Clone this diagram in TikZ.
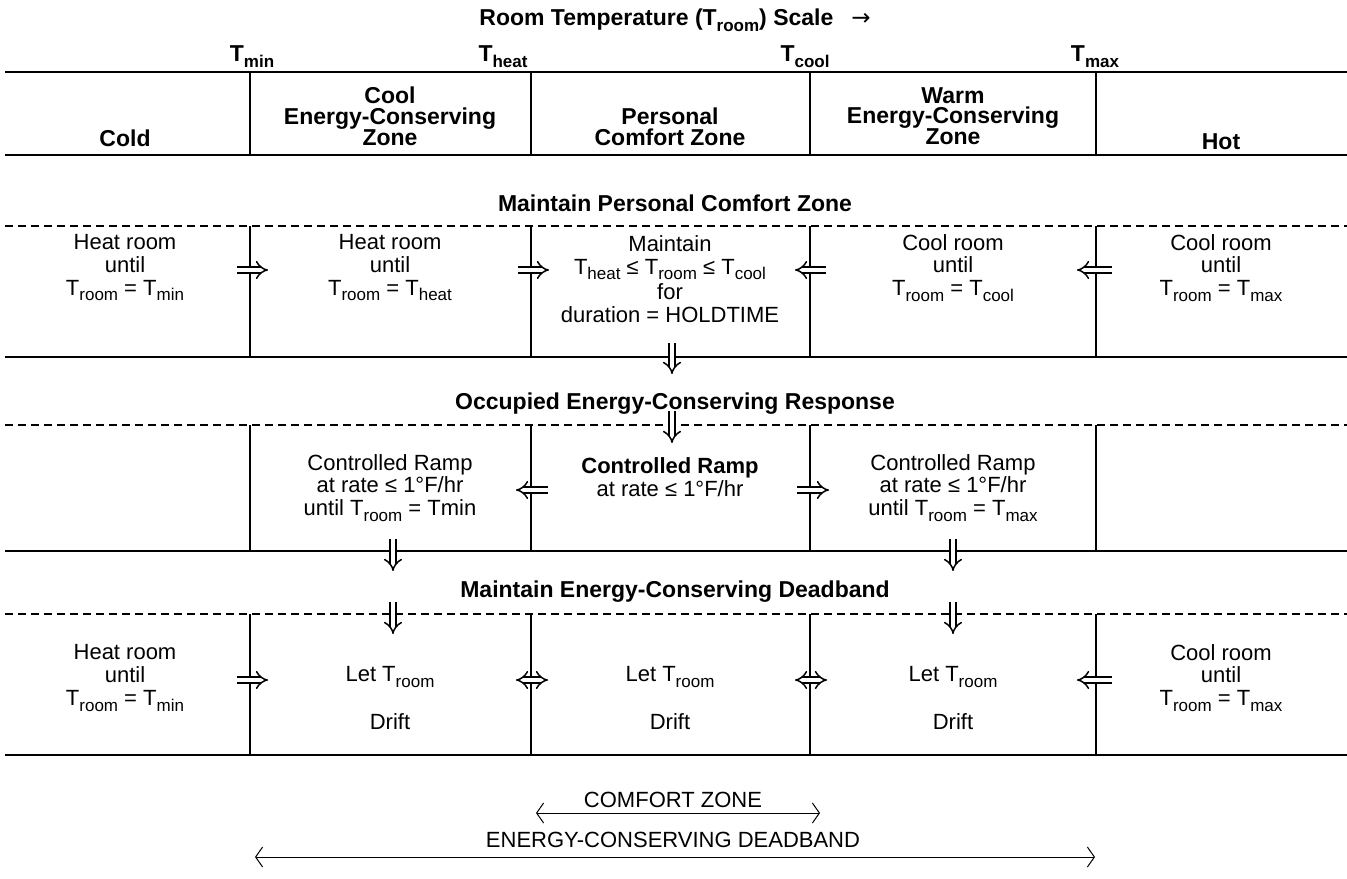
\documentclass[tikz,border=0pt]{standalone}
\usepackage{fontspec}
\setmainfont{Liberation Sans}
\newfontfamily\symfont{DejaVu Sans}
\usetikzlibrary{arrows.meta}
% lowered subscript set in text type
\newcommand{\tsub}[1]{\raisebox{-0.5ex}{\fontsize{8.5}{9}\selectfont #1}}
\newcommand{\Tx}[1]{T\tsub{#1}}
\begin{document}
\begin{tikzpicture}[x=0.5pt,y=-0.5pt,
  txt/.style={font=\fontsize{11}{11.3}\selectfont, align=center, inner sep=0pt},
  hd/.style={font=\bfseries\fontsize{11.5}{10.4}\selectfont, align=center, inner sep=0pt},
  rule/.style={line width=0.7pt},
  dashrule/.style={line width=0.6pt, dash pattern=on 4pt off 2.5pt},
  divider/.style={line width=0.6pt},
  flow/.style={double, double distance=2.4pt, line width=0.75pt, -{Implies}},
  flowboth/.style={double, double distance=2.4pt, line width=0.75pt, {Implies}-{Implies}},
  span/.style={line width=0.5pt, {Straight Barb[length=3.5pt,width=10pt]}-{Straight Barb[length=3.5pt,width=10pt]}},
]
\useasboundingbox (0,0) rectangle (1347,878);

% ---------- scale header ----------
\node[hd] (title) at (675,20) {Room Temperature (\Tx{room}) Scale \enspace{\symfont\mdseries →}};
\node[hd] (tmin)  at (252,57) {\Tx{min}};
\node[hd] (theat) at (503,57) {\Tx{heat}};
\node[hd] (tcool) at (805,57) {\Tx{cool}};
\node[hd] (tmax)  at (1095,57) {\Tx{max}};

\draw[rule] (5,72) -- (1347,72);
\draw[rule] (5,155) -- (1347,155);
\foreach \x in {250,531,810,1096} \draw[divider] (\x,72) -- (\x,155);

\node[hd] (cold)  at (125,138) {Cold};
\node[hd] (coolz) at (390,116) {Cool\\Energy-Conserving\\Zone};
\node[hd] (pers)  at (670,127) {Personal\\Comfort Zone};
\node[hd] (warmz) at (953,116) {Warm\\Energy-Conserving\\Zone};
\node[hd] (hot)   at (1221,142) {Hot};

% ---------- maintain personal comfort zone ----------
\node[hd] (s1) at (675,203) {Maintain Personal Comfort Zone};
\draw[dashrule] (5,226) -- (1347,226);
\draw[rule] (5,357) -- (1347,357);
\foreach \x in {250,531,810,1096} \draw[divider] (\x,226) -- (\x,357);

\node[txt] (a1) at (125,268) {Heat room\\until\\\Tx{room} = \Tx{min}};
\node[txt] (a2) at (390,268) {Heat room\\until\\\Tx{room} = \Tx{heat}};
\node[txt] (a3) at (670,279) {Maintain\\\Tx{heat} ≤ \Tx{room} ≤ \Tx{cool}\\[1.5pt]for\\duration = HOLDTIME};
\node[txt] (a4) at (953,268) {Cool room\\until\\\Tx{room} = \Tx{cool}};
\node[txt] (a5) at (1221,268) {Cool room\\until\\\Tx{room} = \Tx{max}};

\coordinate (p1s) at (237,270);  \coordinate (p1e) at (268,270);
\coordinate (p2s) at (518,270);  \coordinate (p2e) at (549,270);
\coordinate (p3s) at (826,270);  \coordinate (p3e) at (795,270);
\coordinate (p4s) at (1112,270); \coordinate (p4e) at (1077,270);
\draw[flow] (p1s) -- (p1e);
\draw[flow] (p2s) -- (p2e);
\draw[flow] (p3s) -- (p3e);
\draw[flow] (p4s) -- (p4e);
\coordinate (d1s) at (672,343); \coordinate (d1e) at (672,374);
\draw[flow] (d1s) -- (d1e);

% ---------- occupied energy-conserving response ----------
\node[hd] (s2) at (675,404) {Occupied Energy-Conserving Response};
\draw[dashrule] (5,425) -- (1347,425);
\draw[rule] (5,551) -- (1347,551);
\foreach \x in {250,531,810,1096} \draw[divider] (\x,425) -- (\x,551);

\coordinate (d2s) at (672,411); \coordinate (d2e) at (672,443);
\draw[flow] (d2s) -- (d2e);

\node[txt] (b2) at (390,488) {Controlled Ramp\\at rate ≤ 1°F/hr\\until \Tx{room} = Tmin};
\node[txt] (b3) at (670,477) {\textbf{Controlled Ramp}\\at rate ≤ 1°F/hr};
\node[txt] (b4) at (953,488) {Controlled Ramp\\at rate ≤ 1°F/hr\\until \Tx{room} = \Tx{max}};

\coordinate (q1s) at (548,490); \coordinate (q1e) at (516,490);
\coordinate (q2s) at (797,490); \coordinate (q2e) at (829,490);
\draw[flow] (q1s) -- (q1e);
\draw[flow] (q2s) -- (q2e);

\coordinate (d3s) at (393,539); \coordinate (d3e) at (393,571);
\coordinate (d4s) at (953,539); \coordinate (d4e) at (953,571);
\draw[flow] (d3s) -- (d3e);
\draw[flow] (d4s) -- (d4e);

% ---------- maintain energy-conserving deadband ----------
\node[hd] (s3) at (675,592) {Maintain Energy-Conserving Deadband};
\draw[dashrule] (5,614) -- (1347,614);
\draw[rule] (5,755) -- (1347,755);
\foreach \x in {250,531,810,1096} \draw[divider] (\x,614) -- (\x,755);

\coordinate (d5s) at (393,602); \coordinate (d5e) at (393,634);
\coordinate (d6s) at (953,602); \coordinate (d6e) at (953,634);
\draw[flow] (d5s) -- (d5e);
\draw[flow] (d6s) -- (d6e);

\node[txt] (c1) at (125,678) {Heat room\\until\\\Tx{room} = \Tx{min}};
\foreach \x/\n in {390/c2,670/c3,953/c4} {
  \node[txt] (\n top) at (\x,677) {Let \Tx{room}};
  \node[txt] (\n bot) at (\x,722) {Drift};
}
\node[txt] (c5) at (1221,678) {Cool room\\until\\\Tx{room} = \Tx{max}};

\coordinate (r1s) at (237,680);  \coordinate (r1e) at (268,680);
\coordinate (r2s) at (516,680);  \coordinate (r2e) at (548,680);
\coordinate (r3s) at (795,680);  \coordinate (r3e) at (827,680);
\coordinate (r4s) at (1112,680); \coordinate (r4e) at (1077,680);
\draw[flow] (r1s) -- (r1e);
\draw[flowboth] (r2s) -- (r2e);
\draw[flowboth] (r3s) -- (r3e);
\draw[flow] (r4s) -- (r4e);

% ---------- zone spans ----------
\node[txt] (cz) at (673,800) {COMFORT ZONE};
\coordinate (czl) at (536,813); \coordinate (czr) at (820,813);
\draw[span] (czl) -- (czr);
\node[txt] (ed) at (673,840) {ENERGY-CONSERVING DEADBAND};
\coordinate (edl) at (255,857); \coordinate (edr) at (1095,857);
\draw[span] (edl) -- (edr);
\end{tikzpicture}
\end{document}
